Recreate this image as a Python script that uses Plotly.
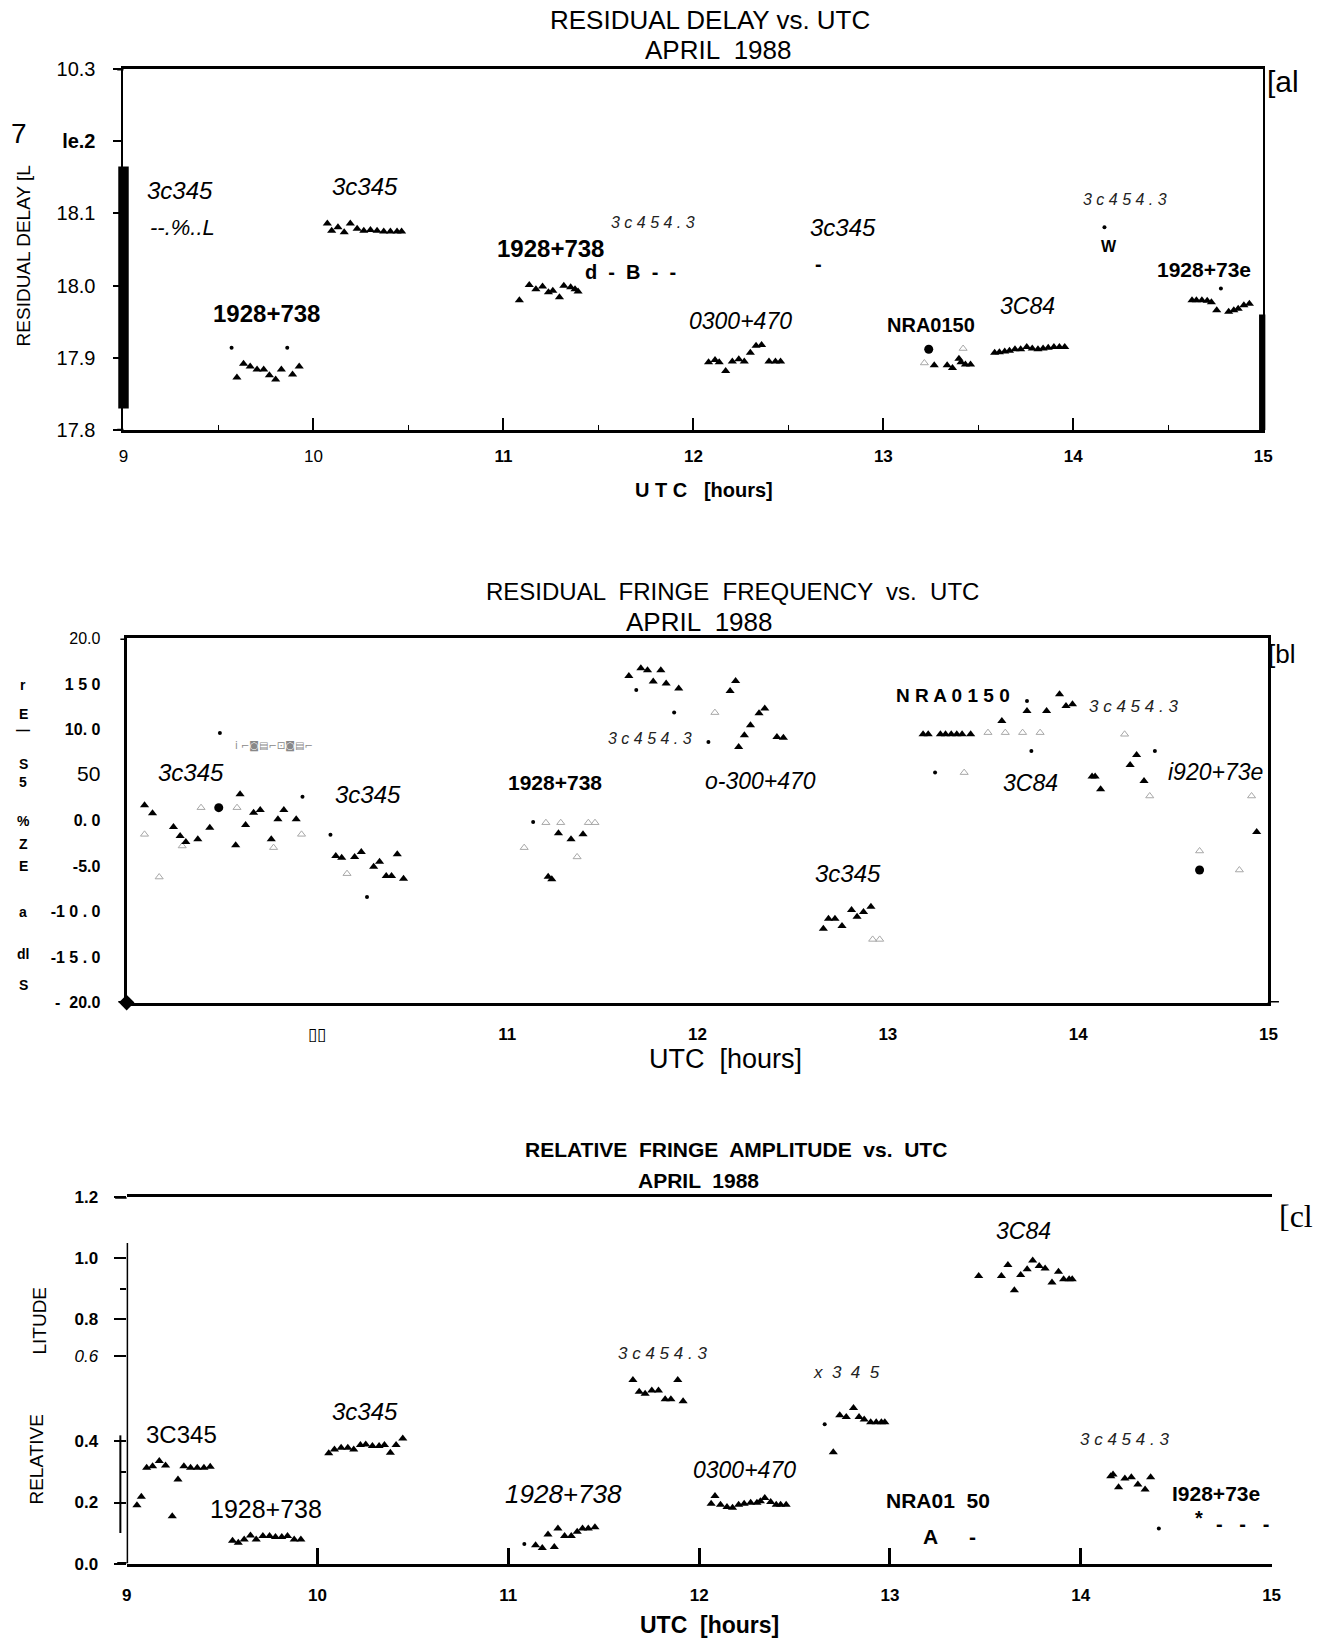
import plotly.graph_objects as go

# ---------------- DATA ----------------
hours = [9, 10, 11, 12, 13, 14, 15]

# Panel (a) residual delay
a_tri_x = [9.597, 9.632, 9.667, 9.703, 9.738, 9.768, 9.801, 9.831, 9.890, 9.925,
           10.073, 10.096, 10.129, 10.162, 10.194, 10.230, 10.265, 10.300, 10.335, 10.370, 10.405, 10.440, 10.464,
           11.084, 11.136, 11.171, 11.206, 11.237, 11.260, 11.295, 11.318, 11.354, 11.377, 11.393,
           12.080, 12.114, 12.136, 12.170, 12.205, 12.239, 12.268, 12.300, 12.330, 12.359, 12.398, 12.432, 12.459,
           13.268, 13.336, 13.364, 13.398, 13.409, 13.432, 13.459,
           13.586, 13.611, 13.639, 13.664, 13.693, 13.723, 13.755, 13.784, 13.814, 13.841, 13.868, 13.898, 13.927, 13.955,
           14.625, 14.648, 14.677, 14.705, 14.727, 14.755, 14.818, 14.845, 14.868, 14.898, 14.927]
a_tri_y = [17.873, 17.892, 17.888, 17.884, 17.884, 17.876, 17.870, 17.884, 17.877, 17.888,
           18.086, 18.076, 18.081, 18.074, 18.086, 18.079, 18.076, 18.077, 18.076, 18.075, 18.075, 18.075, 18.075,
           17.980, 18.001, 17.995, 17.999, 17.991, 17.993, 17.984, 18.000, 17.998, 17.995, 17.992,
           17.894, 17.897, 17.894, 17.882, 17.895, 17.898, 17.895, 17.907, 17.917, 17.918, 17.895, 17.895, 17.895,
           17.890, 17.890, 17.886, 17.899, 17.894, 17.891, 17.891,
           17.907, 17.908, 17.909, 17.910, 17.912, 17.912, 17.915, 17.913, 17.912, 17.913, 17.914, 17.915, 17.915, 17.915,
           17.980, 17.980, 17.980, 17.979, 17.977, 17.966, 17.964, 17.966, 17.968, 17.973, 17.975]
a_dot_x = [9.569, 9.862, 14.164, 14.777]
a_dot_y = [17.914, 17.914, 18.081, 17.996]
a_circ_x = [13.239]
a_circ_y = [17.912]
a_faint_x = [13.216, 13.420]
a_faint_y = [17.893, 17.913]
a_ytick_vals = [17.8, 17.9, 18.0, 18.1, 18.2, 18.3]
a_ytick_text = ["17.8", "17.9", "18.0", "18.1", "<b>le.2</b>", "10.3"]
a_xtick_text = ["9", "10", "<b>11</b>", "<b>12</b>", "<b>13</b>", "<b>14</b>", "<b>15</b>"]

# Panel (b) residual fringe frequency
b_tri_x = [9.094, 9.136, 9.246, 9.281, 9.311, 9.374, 9.437, 9.573, 9.596, 9.625, 9.667, 9.702, 9.760, 9.795, 9.826, 9.891,
           10.099, 10.130, 10.198, 10.233, 10.298, 10.329, 10.364, 10.392, 10.422, 10.455,
           11.215, 11.234, 11.269, 11.335, 11.398,
           11.639, 11.702, 11.737, 11.807, 11.767, 11.835, 11.901,
           12.171, 12.200, 12.216, 12.246, 12.278, 12.323, 12.353, 12.417, 12.451,
           12.661, 12.688, 12.722, 12.759, 12.809, 12.838, 12.872, 12.911,
           13.185, 13.212, 13.276, 13.303, 13.333, 13.362, 13.390, 13.435, 13.599, 13.731, 13.834, 13.902, 13.936, 13.970,
           14.073, 14.089, 14.118, 14.273, 14.307, 14.346,
           14.938]
b_tri_y = [1.67, 0.79, -0.71, -1.70, -2.36, -2.07, -0.79, -2.73, 2.87, -0.49, 0.86, 1.15, -2.07, 0.13, 1.15, 0.13,
           -3.90, -4.08, -4.01, -3.46, -5.07, -4.52, -6.10, -6.10, -3.71, -6.39,
           -6.17, -6.46, -1.40, -2.07, -1.52,
           15.88, 16.72, 16.50, 16.50, 15.26, 15.04, 14.49,
           14.23, 15.33, 8.07, 9.36, 10.46, 11.78, 12.29, 9.18, 9.10,
           -11.89, -10.79, -10.79, -11.60, -9.84, -10.57, -10.06, -9.47,
           9.47, 9.47, 9.47, 9.47, 9.47, 9.47, 9.47, 9.47, 10.93, 12.03, 12.03, 13.86, 12.58, 12.77,
           4.82, 4.82, 3.42, 6.10, 7.20, 4.34,
           -1.26]
b_dot_x = [9.49, 9.924, 10.071, 10.263, 11.136, 11.678, 11.877, 12.057, 13.248, 13.731, 13.754, 14.403]
b_dot_y = [9.6, 2.62, -1.56, -8.41, -0.16, 14.32, 11.85, 8.63, 5.26, 13.13, 7.64, 7.64]
b_circ_x = [9.484, 14.638]
b_circ_y = [1.41, -5.44]
b_faint_x = [9.094, 9.292, 9.171, 9.391, 9.580, 9.772, 9.919, 10.158, 11.089, 11.203, 11.281, 11.426, 11.461,
             11.367, 12.091, 12.920, 12.957, 13.401, 13.526, 13.617, 13.708, 13.800, 14.244, 14.376, 14.638,
             14.847, 14.911]
b_faint_y = [-1.52, -2.80, -6.21, 1.41, 1.41, -2.98, -1.52, -5.84, -2.98, -0.24, -0.24, -0.24, -0.24,
             -4.0, 11.85, -13.06, -13.06, 5.26, 9.65, 9.65, 9.65, 9.65, 9.47, 2.69, -3.35,
             -5.44, 2.69]
b_ytick_vals = [-20, -15, -10, -5, 0, 5, 10, 15, 20]
b_ytick_text = ["<b>-  20.0</b>", "<b>-1 5 . 0</b>", "<b>-1 0 . 0</b>", "<b>-5.0</b>", "<b>0. 0</b>",
                "<span style='font-size:21px'>50</span>", "<b>10. 0</b>", "<b>1 5 0</b>", "20.0"]
b_xtick_text = ["", "▯▯", "<b>11</b>", "<b>12</b>", "<b>13</b>", "<b>14</b>", "<b>15</b>"]

# Panel (c) relative fringe amplitude
c_tri_x = [9.054, 9.077, 9.105, 9.136, 9.171, 9.204, 9.239, 9.269, 9.300, 9.335, 9.370, 9.405, 9.438,
           9.555, 9.585, 9.616, 9.649, 9.679, 9.714, 9.749, 9.780, 9.813, 9.843, 9.878, 9.913,
           10.059, 10.089, 10.124, 10.159, 10.190, 10.225, 10.253, 10.288, 10.323, 10.351, 10.382, 10.412, 10.447,
           11.143, 11.178, 11.208, 11.241, 11.260, 11.295, 11.330, 11.361, 11.389, 11.419, 11.454,
           11.653, 11.686, 11.717, 11.752, 11.787, 11.822, 11.852, 11.888, 11.916,
           12.063, 12.083, 12.112, 12.146, 12.175, 12.207, 12.236, 12.270, 12.303, 12.321, 12.344, 12.375, 12.404, 12.427, 12.456,
           12.703, 12.737, 12.771, 12.809, 12.838, 12.865, 12.899, 12.928, 12.955, 12.973,
           13.465, 13.584, 13.618, 13.652, 13.685, 13.719, 13.748, 13.782, 13.813, 13.849, 13.883, 13.910, 13.939, 13.955,
           14.157, 14.169, 14.198, 14.231, 14.265, 14.299, 14.337, 14.366]
c_tri_y = [0.191, 0.219, 0.314, 0.319, 0.336, 0.321, 0.155, 0.275, 0.319, 0.314, 0.314, 0.314, 0.317,
           0.075, 0.068, 0.079, 0.092, 0.079, 0.090, 0.090, 0.087, 0.087, 0.090, 0.079, 0.079,
           0.361, 0.374, 0.379, 0.379, 0.374, 0.388, 0.390, 0.385, 0.385, 0.388, 0.363, 0.388, 0.410,
           0.060, 0.051, 0.095, 0.054, 0.115, 0.090, 0.090, 0.104, 0.115, 0.115, 0.119,
           0.601, 0.563, 0.556, 0.567, 0.567, 0.538, 0.538, 0.601, 0.532,
           0.196, 0.221, 0.193, 0.185, 0.183, 0.193, 0.196, 0.199, 0.199, 0.204, 0.215, 0.202, 0.193, 0.193, 0.193,
           0.365, 0.486, 0.480, 0.510, 0.480, 0.472, 0.463, 0.463, 0.463, 0.463,
           0.942, 0.942, 0.978, 0.895, 0.945, 0.964, 0.993, 0.975, 0.967, 0.921, 0.956, 0.931, 0.931, 0.931,
           0.286, 0.292, 0.250, 0.279, 0.283, 0.259, 0.243, 0.283]
c_dot_x = [11.084, 12.658, 14.409]
c_dot_y = [0.064, 0.456, 0.115]
c_ytick_vals = [0.0, 0.2, 0.4, 0.68, 0.8, 1.0, 1.2]
c_ytick_text = ["<b>0.0</b>", "<b>0.2</b>", "<b>0.4</b>", "<i>0.6</i>", "<b>0.8</b>", "<b>1.0</b>", "<b>1.2</b>"]
c_minor_vals = [0.3, 0.9]
c_xtick_text = ["<b>9</b>", "<b>10</b>", "<b>11</b>", "<b>12</b>", "<b>13</b>", "<b>14</b>", "<b>15</b>"]

# source labels: (text, x, y, style, size)
a_labels = [("3c345", 9.30, 18.132, "i", 24), ("--.%..L", 9.31, 18.080, "i", 22), ("3c345", 10.27, 18.138, "i", 24),
            ("1928+738", 9.755, 17.961, "b", 24), ("1928+738", 11.25, 18.052, "b", 24),
            ("d  -  B  -  -", 11.67, 18.019, "b", 20),
            ("3 c 4 5 4 . 3", 11.79, 18.088, "s", 16), ("3c345", 12.79, 18.080, "i", 24), ("-", 12.66, 18.030, "b", 20),
            ("0300+470", 12.25, 17.951, "i", 23), ("NRA0150", 13.25, 17.945, "b", 20), ("3C84", 13.76, 17.972, "i", 23),
            ("3 c 4 5 4 . 3", 14.27, 18.119, "s", 16), ("W", 14.19, 18.054, "b", 16), ("1928+73e", 14.69, 18.023, "b", 21)]
b_labels = [("3c345", 9.34, 5.29, "i", 24), ("3c345", 10.27, 2.87, "i", 24), ("1928+738", 11.25, 4.14, "b", 21),
            ("3 c 4 5 4 . 3", 11.75, 8.97, "s", 16), ("o-300+470", 12.33, 4.37, "i", 23), ("3c345", 12.79, -5.86, "i", 24),
            ("N R A 0 1 5 0", 13.34, 13.68, "b", 19), ("3C84", 13.75, 4.14, "i", 23),
            ("3 c 4 5 4 . 3", 14.29, 12.53, "s", 17), ("i920+73e", 14.72, 5.29, "i", 23)]
c_labels = [("3C345", 9.29, 0.423, "n", 24), ("1928+738", 9.73, 0.180, "n", 25), ("3c345", 10.25, 0.498, "i", 24),
            ("1928+738", 11.29, 0.228, "i", 26), ("3 c 4 5 4 . 3", 11.81, 0.687, "s", 17),
            ("x  3  4  5", 12.77, 0.625, "s", 17),
            ("0300+470", 12.24, 0.307, "i", 23), ("NRA01  50", 13.25, 0.205, "b", 21), ("A", 13.21, 0.088, "b", 21),
            ("-", 13.43, 0.088, "b", 21), ("3C84", 13.70, 1.09, "i", 23), ("3 c 4 5 4 . 3", 14.23, 0.406, "s", 17),
            ("I928+73e", 14.71, 0.228, "b", 21), ("*", 14.62, 0.150, "b", 20), ("-   -   -", 14.85, 0.128, "b", 20)]

# ---------------- FIGURE ----------------
SW, SH = 1266.0, 1568.0   # reference frame used for placement


def px(v):
    return v / SW


def py(v):
    return 1 - v / SH


SANS = "Liberation Sans, Arial, sans-serif"
NARROW = "Liberation Sans Narrow, Liberation Sans, Arial, sans-serif"
SERIF = "Liberation Serif, DejaVu Serif, serif"

fig = go.Figure()

panels = [
    ("x", "y", a_tri_x, a_tri_y, a_dot_x, a_dot_y, a_circ_x, a_circ_y, a_faint_x, a_faint_y),
    ("x2", "y2", b_tri_x, b_tri_y, b_dot_x, b_dot_y, b_circ_x, b_circ_y, b_faint_x, b_faint_y),
    ("x3", "y3", c_tri_x, c_tri_y, c_dot_x, c_dot_y, [], [], [], []),
]
for xa, ya, tx, ty, dx, dy, cx, cy, fx, fy in panels:
    fig.add_trace(go.Scatter(x=fx, y=fy, mode="markers", xaxis=xa, yaxis=ya, showlegend=False,
                             marker=dict(symbol="triangle-up-open", size=7, color="#a8a8a8",
                                         line=dict(width=1, color="#a8a8a8")), cliponaxis=False))
    fig.add_trace(go.Scatter(x=tx, y=ty, mode="markers", xaxis=xa, yaxis=ya, showlegend=False,
                             marker=dict(symbol="triangle-up", size=8, color="black"), cliponaxis=False))
    fig.add_trace(go.Scatter(x=dx, y=dy, mode="markers", xaxis=xa, yaxis=ya, showlegend=False,
                             marker=dict(symbol="circle", size=4, color="black"), cliponaxis=False))
    if cx:
        fig.add_trace(go.Scatter(x=cx, y=cy, mode="markers", xaxis=xa, yaxis=ya, showlegend=False,
                                 marker=dict(symbol="circle", size=9, color="black"), cliponaxis=False))

# diamond at origin of panel b
fig.add_trace(go.Scatter(x=[9], y=[-20], mode="markers", xaxis="x2", yaxis="y2", showlegend=False,
                         marker=dict(symbol="diamond", size=12, color="black"), cliponaxis=False))

axis_common = dict(showgrid=False, zeroline=False, linecolor="black", color="black", automargin=False)

fig.update_layout(
    template="none",
    width=1325, height=1641, margin=dict(l=0, r=0, t=0, b=0, pad=0, autoexpand=False),
    paper_bgcolor="white", plot_bgcolor="white", font=dict(family=SANS, color="black"),
    showlegend=False,
    xaxis=dict(domain=[px(118), px(1207)], range=[9, 15], tickvals=hours, ticktext=a_xtick_text,
               anchor="y", showline=True, linewidth=3, mirror=True, ticks="inside", ticklen=12, tickwidth=2,
               minor=dict(dtick=0.5, ticks="inside", ticklen=5, tickwidth=1, tick0=9),
               tickfont=dict(family=NARROW, size=17), ticklabelstandoff=8, **axis_common),
    yaxis=dict(domain=[py(411), py(66)], range=[17.8, 18.3], tickvals=a_ytick_vals, ticktext=a_ytick_text,
               anchor="x", showline=True, linewidth=2, mirror=True, ticks="outside", ticklen=8, tickwidth=2,
               tickfont=dict(family=NARROW, size=20), ticklabelstandoff=14, **axis_common),
    xaxis2=dict(domain=[px(121), px(1212)], range=[9, 15], tickvals=hours, ticktext=b_xtick_text,
                anchor="y2", showline=True, linewidth=3, mirror=True, ticks="",
                tickfont=dict(family=NARROW, size=17), ticklabelstandoff=14, **axis_common),
    yaxis2=dict(domain=[py(958), py(610)], range=[-20, 20], tickvals=b_ytick_vals, ticktext=b_ytick_text,
                anchor="x2", showline=True, linewidth=3, mirror=True, ticks="",
                tickfont=dict(family=SANS, size=16), ticklabelstandoff=20, **axis_common),
    xaxis3=dict(domain=[px(121), px(1215)], range=[9, 15], tickvals=hours, ticktext=c_xtick_text,
                anchor="y3", showline=True, linewidth=3, mirror=True, ticks="inside", ticklen=16, tickwidth=3,
                tickfont=dict(family=NARROW, size=17), ticklabelstandoff=14, **axis_common),
    yaxis3=dict(domain=[py(1494), py(1144)], range=[0, 1.2], tickvals=c_ytick_vals, ticktext=c_ytick_text,
                anchor="x3", showline=False, ticks="outside", ticklen=12, tickwidth=2,
                minor=dict(tickvals=c_minor_vals, ticks="outside", ticklen=6, tickwidth=2),
                tickfont=dict(family=NARROW, size=17), ticklabelstandoff=12, **axis_common),
)

# extra lines: thick bar in panel a, partial left axis in panel c, short extensions of frame lines
fig.add_shape(type="rect", xref="paper", yref="y", x0=px(113), x1=px(123), y0=17.83, y1=18.165,
              fillcolor="black", line=dict(width=0))
fig.add_shape(type="rect", xref="paper", yref="y", x0=px(1203), x1=px(1209), y0=17.8, y1=17.96,
              fillcolor="black", line=dict(width=0))
fig.add_shape(type="line", xref="x3", yref="y3", x0=9, x1=9, y0=0, y1=1.05, line=dict(color="black", width=3))
fig.add_shape(type="line", xref="paper", yref="y3", x0=px(115), x1=px(115), y0=0.10, y1=0.42,
              line=dict(color="black", width=2))
for yref, yv, x0, x1 in [("y", 18.3, 112, 118), ("y", 17.8, 112, 118), ("y2", 20, 115, 121), ("y2", -20, 113, 121),
                         ("y3", 1.2, 110, 121), ("y3", 0.0, 112, 121), ("y2", -20, 1212, 1222)]:
    fig.add_shape(type="line", xref="paper", yref=yref, x0=px(x0), x1=px(x1), y0=yv, y1=yv,
                  line=dict(color="black", width=3))
fig.add_shape(type="line", xref="paper", yref="y2", x0=px(1212), x1=px(1212), y0=-21.5, y1=-20,
              line=dict(color="black", width=3))

annotations = []


def styled(t, s):
    if s == "i":
        return "<i>%s</i>" % t, SANS, "black"
    if s == "b":
        return "<b>%s</b>" % t, SANS, "black"
    if s == "s":
        return "<i>%s</i>" % t, SANS, "#222222"
    return t, SANS, "black"


for labs, xa, ya in [(a_labels, "x", "y"), (b_labels, "x2", "y2"), (c_labels, "x3", "y3")]:
    for t, x, y, s, sz in labs:
        txt, fam, col = styled(t, s)
        annotations.append(dict(text=txt, x=x, y=y, xref=xa, yref=ya, showarrow=False,
                                xanchor="center", yanchor="middle",
                                font=dict(size=sz, family=fam, color=col)))


def ptext(t, x, y, size, fam=SANS, angle=0, color="black"):
    annotations.append(dict(text=t, x=px(x), y=py(y), xref="paper", yref="paper", showarrow=False,
                            xanchor="center", yanchor="middle",
                            textangle=angle, font=dict(size=size, family=fam, color=color)))


# panel (a) texts
ptext("RESIDUAL DELAY vs. UTC", 678, 19, 26, NARROW)
ptext("APRIL  1988", 686, 48, 26, NARROW)
ptext("<b>U T C   [hours]</b>", 673, 468, 20, NARROW)
ptext("RESIDUAL DELAY [L", 22, 245, 19, SANS, -90)
ptext("7", 18, 128, 28, SANS)
ptext("[al", 1226, 78, 30, NARROW)

# panel (b) texts
ptext("RESIDUAL  FRINGE  FREQUENCY  vs.  UTC", 700, 565, 24, NARROW)
ptext("APRIL  1988", 668, 594, 26, SANS)
ptext("UTC  [hours]", 693, 1012, 27, SANS)
ptext("[bl", 1224, 625, 26, SANS)
ptext("i ⌐◙▤⌐⊡◙▤⌐", 262, 713, 10, "DejaVu Sans", 0, "#888888")
for ch, yy in [("r", 655), ("E", 682), ("—", 698), ("S", 730), ("5", 747), ("%", 784), ("Z", 806),
               ("E", 827), ("a", 871), ("dl", 912), ("S", 941)]:
    ptext("<b>%s</b>" % ch, 22, yy, 14, SANS)

# panel (c) texts
ptext("<b>RELATIVE  FRINGE  AMPLITUDE  vs.  UTC</b>", 703, 1098, 21, NARROW)
ptext("<b>APRIL  1988</b>", 667, 1128, 21, NARROW)
ptext("<b>UTC  [hours]</b>", 678, 1553, 23, NARROW)
ptext("[cl", 1238, 1162, 32, SERIF)
ptext("RELATIVE", 35, 1395, 19, SANS, -90)
ptext("LITUDE", 38, 1262, 19, SANS, -90)

fig.update_layout(annotations=annotations)
fig.write_html("out.html", config={"displayModeBar": False},
               post_script="document.body.style.margin='0px';document.body.style.overflow='hidden';")
